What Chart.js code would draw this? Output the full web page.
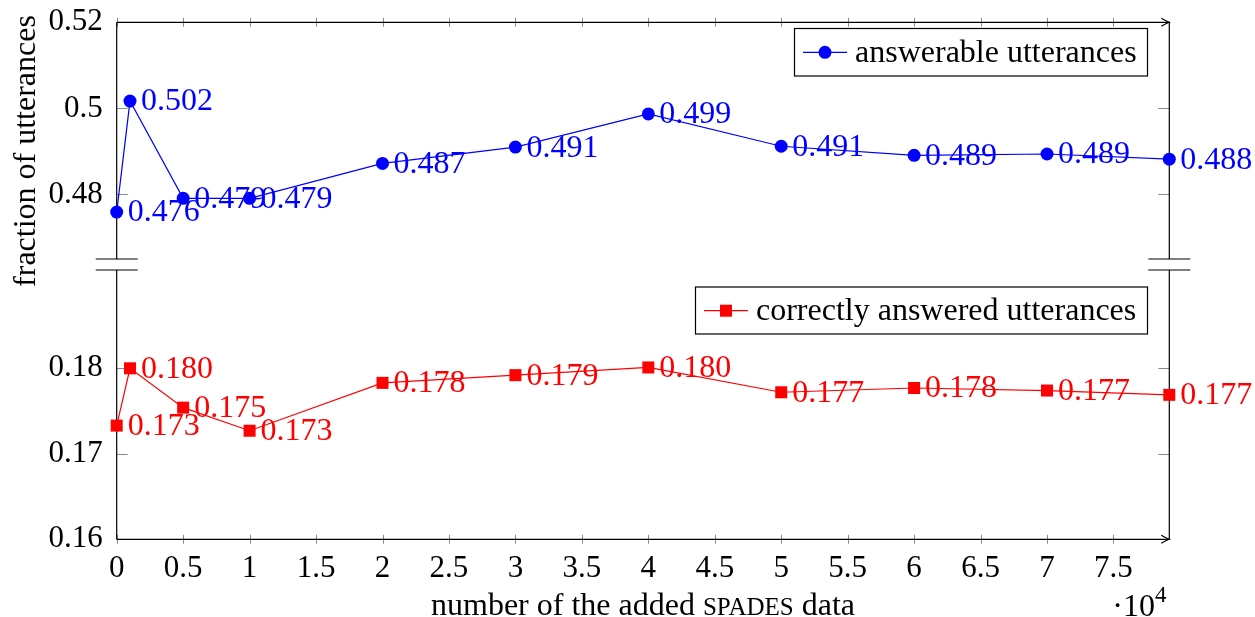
<!DOCTYPE html>
<html>
<head>
<meta charset="utf-8">
<script src="https://cdn.jsdelivr.net/npm/chart.js@4.4.1/dist/chart.umd.min.js"></script>
<style>
  html, body { margin: 0; padding: 0; background: #fff; }
  #contenedor { width: 1255px; height: 617px; }
</style>
</head>
<body>
<div id="contenedor"><canvas id="grafico"></canvas></div>
<script>
// datos
const cantidadAgregada = [0, 1000, 5000, 10000, 20000, 30000, 40000, 50000, 60000, 70000, 79200];
const respondibles = [0.4759, 0.5017, 0.4791, 0.4791, 0.4872, 0.4910, 0.4987, 0.4912, 0.4891, 0.4894, 0.4882];
const respondidasBien = [0.1733, 0.1800, 0.1754, 0.1727, 0.1783, 0.1792, 0.1801, 0.1772, 0.1777, 0.1774, 0.1769];

const ticksX = [0, 5000, 10000, 15000, 20000, 25000, 30000, 35000, 40000, 45000, 50000, 55000, 60000, 65000, 70000, 75000];
const etiquetasX = ['0', '0.5', '1', '1.5', '2', '2.5', '3', '3.5', '4', '4.5', '5', '5.5', '6', '6.5', '7', '7.5'];
const ticksArriba = [0.48, 0.5, 0.52];
const etiquetasArriba = ['0.48', '0.5', '0.52'];
const ticksAbajo = [0.16, 0.17, 0.18];
const etiquetasAbajo = ['0.16', '0.17', '0.18'];

const nombreSerieAzul = 'answerable utterances';
const nombreSerieRoja = 'correctly answered utterances';

// eje partido en dos tramos apilados; el corte queda en medio del hueco
const fuente = "'Liberation Serif', 'Times New Roman', serif";
const maxArriba = 0.52, corteArriba = 0.465;
const minAbajo = 0.16, corteAbajo = 0.1915;
const altoTramoArriba = 236.7, altoTramoAbajo = 269.3, hueco = 11;
const pesoArriba = altoTramoArriba + hueco / 2;
const pesoAbajo = altoTramoAbajo + hueco / 2;
const minArriba = maxArriba - (maxArriba - corteArriba) * pesoArriba / altoTramoArriba;
const maxAbajo = minAbajo + (corteAbajo - minAbajo) * pesoAbajo / altoTramoAbajo;

function linea(ctx, x1, y1, x2, y2) {
  ctx.beginPath();
  ctx.moveTo(x1, y1);
  ctx.lineTo(x2, y2);
  ctx.stroke();
}

function flecha(ctx, x, y) {
  ctx.beginPath();
  ctx.moveTo(x - 8, y - 4);
  ctx.quadraticCurveTo(x - 3, y - 1, x, y);
  ctx.quadraticCurveTo(x - 3, y + 1, x - 8, y + 4);
  ctx.stroke();
}

const marco = {
  id: 'marco',
  beforeDatasetsDraw(chart) {
    const ctx = chart.ctx;
    const a = chart.chartArea;
    const sx = chart.scales.x, sA = chart.scales.yArriba, sB = chart.scales.yAbajo;
    const finArriba = sA.getPixelForValue(corteArriba);
    const inicioAbajo = sB.getPixelForValue(corteAbajo);
    ctx.save();
    // marcas de los ejes
    ctx.strokeStyle = '#8a8a8a';
    ctx.lineWidth = 1;
    ticksX.forEach(v => {
      const px = Math.round(sx.getPixelForValue(v)) + 0.5;
      linea(ctx, px, a.bottom - 4.5, px, a.bottom + 4.5);
      linea(ctx, px, a.top - 4.5, px, a.top + 4.5);
    });
    ticksArriba.forEach(v => {
      const py = Math.round(sA.getPixelForValue(v)) + 0.5;
      linea(ctx, a.left, py, a.left + 11, py);
      linea(ctx, a.right - 11, py, a.right, py);
    });
    ticksAbajo.forEach(v => {
      const py = Math.round(sB.getPixelForValue(v)) + 0.5;
      linea(ctx, a.left, py, a.left + 11, py);
      linea(ctx, a.right - 11, py, a.right, py);
    });
    // lineas de los ejes
    ctx.strokeStyle = '#000';
    ctx.lineWidth = 1.2;
    linea(ctx, a.left, a.top, a.right, a.top);
    linea(ctx, a.left, a.bottom, a.right, a.bottom);
    flecha(ctx, a.right, a.top);
    flecha(ctx, a.right, a.bottom);
    [a.left, a.right].forEach(x => {
      linea(ctx, x, a.top, x, finArriba);
      linea(ctx, x, inicioAbajo, x, a.bottom);
      linea(ctx, x - 21, finArriba, x + 21, finArriba);
      linea(ctx, x - 21, inicioAbajo, x + 21, inicioAbajo);
    });
    ctx.restore();
  },
  afterDatasetsDraw(chart) {
    const ctx = chart.ctx;
    ctx.save();
    ctx.font = '32px ' + fuente;
    ctx.textAlign = 'left';
    ctx.textBaseline = 'middle';
    chart.data.datasets.forEach((ds, i) => {
      const meta = chart.getDatasetMeta(i);
      ctx.fillStyle = ds.borderColor;
      meta.data.forEach((p, j) => {
        ctx.fillText(ds.data[j].y.toFixed(3), p.x + 11, p.y + 1);
      });
    });
    ctx.restore();
  },
  afterDraw(chart) {
    const ctx = chart.ctx;
    const a = chart.chartArea;
    ctx.save();
    // leyendas
    const leyendas = [
      { caja: [794.5, 28.5, 353, 47.5], y: 52.3, x0: 803, color: '#0000ff', forma: 'circulo', texto: nombreSerieAzul },
      { caja: [695.5, 287, 452, 47], y: 310.7, x0: 704, color: '#ff0000', forma: 'cuadro', texto: nombreSerieRoja }
    ];
    leyendas.forEach(l => {
      ctx.fillStyle = '#fff';
      ctx.fillRect(...l.caja);
      ctx.strokeStyle = '#000';
      ctx.lineWidth = 1.2;
      ctx.strokeRect(...l.caja);
      ctx.strokeStyle = l.color;
      ctx.fillStyle = l.color;
      ctx.lineWidth = 1.2;
      linea(ctx, l.x0, l.y, l.x0 + 44, l.y);
      const cx = l.x0 + 22;
      if (l.forma === 'circulo') {
        ctx.beginPath();
        ctx.arc(cx, l.y, 6.5, 0, Math.PI * 2);
        ctx.fill();
      } else {
        ctx.fillRect(cx - 6, l.y - 6, 12, 12);
      }
      ctx.fillStyle = '#000';
      ctx.font = '32px ' + fuente;
      ctx.textBaseline = 'middle';
      ctx.textAlign = 'left';
      ctx.fillText(l.texto, l.x0 + 52, l.y + 1);
    });
    // titulo eje x con versalitas
    ctx.fillStyle = '#000';
    ctx.textBaseline = 'alphabetic';
    ctx.textAlign = 'left';
    const partes = [['number of the added ', 32], ['SPADES', 25], [' data', 32]];
    let ancho = 0;
    partes.forEach(([t, s]) => { ctx.font = s + 'px ' + fuente; ancho += ctx.measureText(t).width; });
    let x = (a.left + a.right) / 2 - ancho / 2;
    partes.forEach(([t, s]) => {
      ctx.font = s + 'px ' + fuente;
      ctx.fillText(t, x, 615);
      x += ctx.measureText(t).width;
    });
    // factor 10^4
    ctx.font = '32px ' + fuente;
    ctx.textAlign = 'right';
    ctx.fillText('\u00b710', 1155, 616);
    ctx.font = '23px ' + fuente;
    ctx.textAlign = 'left';
    ctx.fillText('4', 1155, 602);
    // titulo eje y
    ctx.font = '32px ' + fuente;
    ctx.textAlign = 'center';
    ctx.translate(35, 151);
    ctx.rotate(-Math.PI / 2);
    ctx.fillText('fraction of utterances', 0, 0);
    ctx.restore();
  }
};

const puntosAzules = cantidadAgregada.map((x, i) => ({ x: x, y: respondibles[i] }));
const puntosRojos = cantidadAgregada.map((x, i) => ({ x: x, y: respondidasBien[i] }));

function sinRelleno(s) {
  s.paddingTop = 0;
  s.paddingBottom = 0;
  s.paddingLeft = 0;
  s.paddingRight = 0;
}

function ejeY(min, max, ticks, etiquetas, peso, pesoPila) {
  return {
    type: 'linear',
    position: 'left',
    stack: 'fraccion',
    stackWeight: pesoPila,
    weight: peso,
    min: min,
    max: max,
    grid: { display: false, drawTicks: false },
    border: { display: false },
    afterBuildTicks: s => { s.ticks = ticks.map(v => ({ value: v })); },
    afterFit: s => { s.width = 116.7; sinRelleno(s); },
    ticks: {
      autoSkip: false,
      padding: 14,
      color: '#000',
      font: { family: fuente, size: 31 },
      callback: (v, i) => etiquetas[i]
    }
  };
}

const grafico = new Chart(document.getElementById('grafico').getContext('2d'), {
  type: 'line',
  data: {
    datasets: [
      {
        label: nombreSerieAzul,
        data: puntosAzules,
        yAxisID: 'yArriba',
        borderColor: '#0000ff',
        backgroundColor: '#0000ff',
        borderWidth: 1.2,
        pointStyle: 'circle',
        pointRadius: 6.5,
        pointBorderWidth: 0,
        clip: false
      },
      {
        label: nombreSerieRoja,
        data: puntosRojos,
        yAxisID: 'yAbajo',
        borderColor: '#ff0000',
        backgroundColor: '#ff0000',
        borderWidth: 1.2,
        pointStyle: 'rect',
        pointRadius: 8.5,
        pointBorderWidth: 0,
        clip: false
      }
    ]
  },
  options: {
    responsive: true,
    maintainAspectRatio: false,
    animation: false,
    events: [],
    layout: { padding: { top: 22.3, right: 85.7, left: 0, bottom: 0 } },
    plugins: { legend: { display: false }, tooltip: { enabled: false } },
    scales: {
      x: {
        type: 'linear',
        min: 0,
        max: cantidadAgregada[cantidadAgregada.length - 1],
        grid: { display: false, drawTicks: false },
        border: { display: false },
        afterBuildTicks: s => { s.ticks = ticksX.map(v => ({ value: v })); },
        afterFit: s => { s.height = 617 - 539.3; sinRelleno(s); },
        ticks: {
          autoSkip: false,
          maxRotation: 0,
          padding: 11,
          color: '#000',
          font: { family: fuente, size: 31 },
          callback: (v, i) => etiquetasX[i]
        }
      },
      yArriba: ejeY(minArriba, maxArriba, ticksArriba, etiquetasArriba, 1, pesoArriba),
      yAbajo: ejeY(minAbajo, maxAbajo, ticksAbajo, etiquetasAbajo, 0, pesoAbajo)
    }
  },
  plugins: [marco]
});
</script>
</body>
</html>
